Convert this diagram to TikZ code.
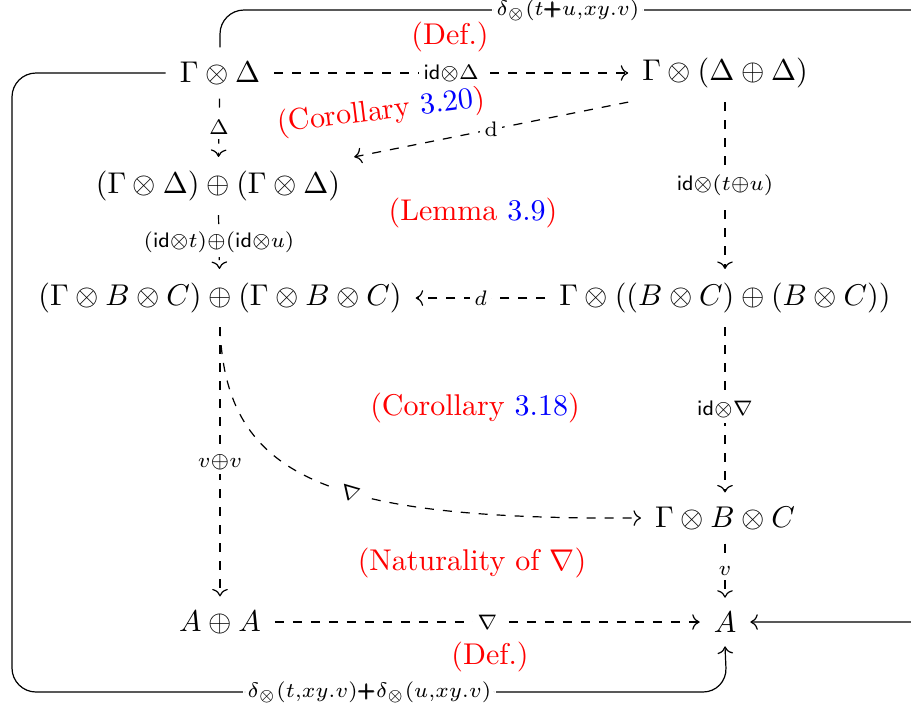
\documentclass[tikz,border=0pt]{standalone}
\usepackage{amsmath}
\usepackage{xcolor}
\usetikzlibrary{arrows.meta}
\begin{document}
\begin{tikzpicture}[x=0.3333pt,y=-0.3333pt,
  obj/.style={inner sep=4.5pt},
  arr/.style={-{Computer Modern Rightarrow[]}, dashed},
  solidarr/.style={-{Computer Modern Rightarrow[]}, rounded corners=8pt},
  lab/.style={fill=white, inner sep=1.5pt},
  note/.style={text=red}]
\useasboundingbox (0,0) rectangle (911,715);
% objects
\node[obj] (GD) at (220,73) {$\Gamma\otimes\Delta$};
\node[obj] (GDD) at (725,73) {$\Gamma\otimes(\Delta\oplus\Delta)$};
\node[obj] (GDGD) at (218,186) {$(\Gamma\otimes\Delta)\oplus(\Gamma\otimes\Delta)$};
\node[obj] (GBC2) at (220,298) {$(\Gamma\otimes B\otimes C)\oplus(\Gamma\otimes B\otimes C)$};
\node[obj] (GBCBC) at (725,298) {$\Gamma\otimes((B\otimes C)\oplus(B\otimes C))$};
\node[obj] (GBC) at (725,518) {$\Gamma\otimes B\otimes C$};
\node[obj] (AA) at (220,622) {$A\oplus A$};
\node[obj] (A) at (725,622) {$A$};
% notes
\node[note] (n1) at (450,37) {(Def.)};
\node[note, rotate=7] (n2) at (381,112) {(Corollary \textcolor{blue}{3.20})};
\node[note] (n3) at (473,213) {(Lemma \textcolor{blue}{3.9})};
\node[note] (n4) at (475,408) {(Corollary \textcolor{blue}{3.18})};
\node[note] (n5) at (472,563) {(Naturality of $\nabla$)};
\node[note] (n6) at (490,657) {(Def.)};
% arrows
\draw[arr] (GD) -- node[lab] {$\scriptstyle\mathsf{id}\otimes\Delta$} (GDD);
\draw[arr] (GD) -- node[lab] {$\scriptstyle\Delta$} (GDGD);
\draw[arr] (GDD.south west) -- node[lab] {$\scriptstyle\mathrm{d}$} (GDGD.north east);
\draw[arr] (GDGD) -- node[lab] {$\scriptstyle(\mathsf{id}\otimes t)\oplus(\mathsf{id}\otimes u)$} (GBC2);
\draw[arr] (GDD) -- node[lab] {$\scriptstyle\mathsf{id}\otimes(t\oplus u)$} (GBCBC);
\draw[arr] (GBCBC) -- node[lab] {$\scriptstyle d$} (GBC2);
\draw[arr] (GBCBC) -- node[lab] {$\scriptstyle\mathsf{id}\otimes\nabla$} (GBC);
\draw[arr] (GBC2) -- node[lab] {$\scriptstyle v\oplus v$} (AA);
\draw[arr] (GBC2.south) .. controls (225,480) and (330,520) .. node[lab, pos=0.58, sloped] {$\scriptstyle\nabla$} (GBC.west);
\draw[arr] (GBC) -- node[lab] {$\scriptstyle v$} (A);
\draw[arr] (AA) -- node[lab] {$\scriptstyle\nabla$} (A);
% outer connectors
\coordinate (tl) at (220,10);
\coordinate (tr) at (945,10);
\coordinate (br) at (945,622);
\draw[solidarr] (GD.north) -- (tl) -- node[lab, pos=0.48] {$\scriptstyle\delta_{\otimes}(t\pmb{+}u{,}xy.v)$} (tr) -- (br) -- (A);
\coordinate (l1) at (12,73);
\coordinate (l2) at (12,692);
\coordinate (l3) at (727,692);
\draw[solidarr] (GD.west) -- (l1) -- (l2) -- node[lab, pos=0.5] {$\scriptstyle\delta_{\otimes}(t{,}xy.v)\pmb{+}\delta_{\otimes}(u{,}xy.v)$} (l3) -- (A.south);
\end{tikzpicture}
\end{document}
